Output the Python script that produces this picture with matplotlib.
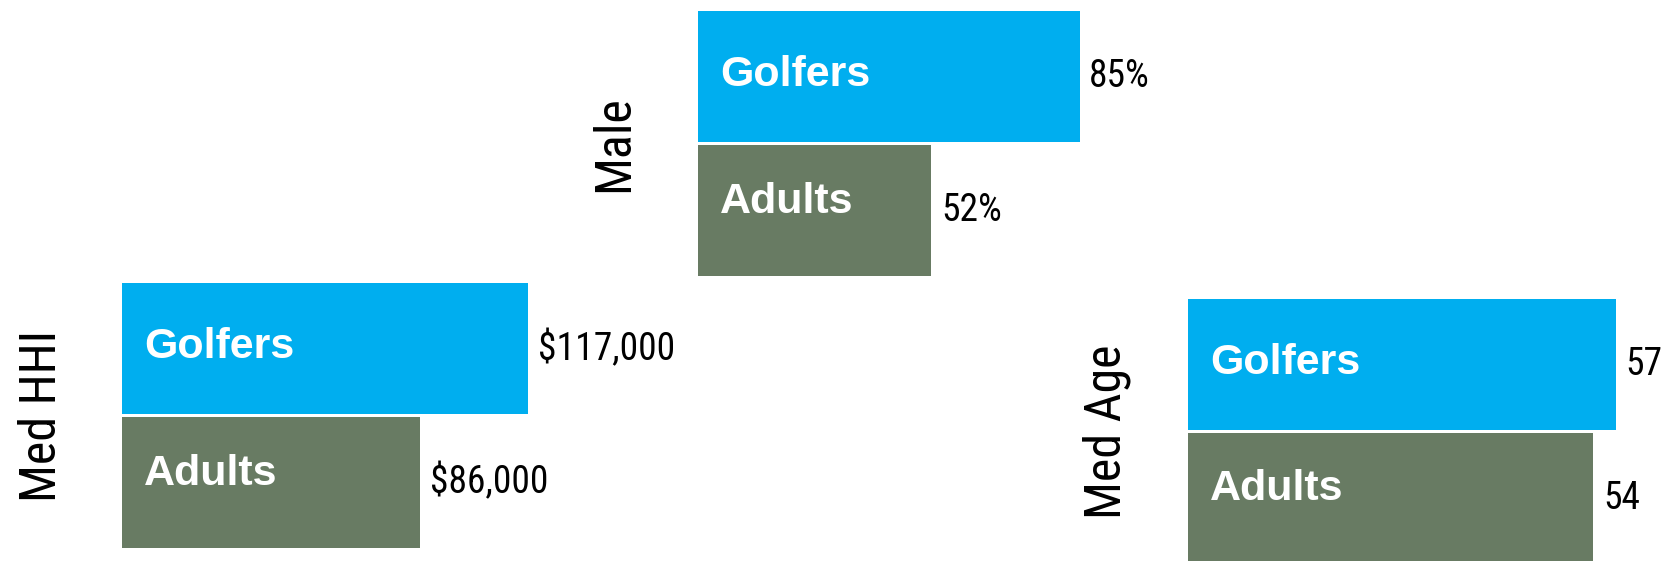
import matplotlib.pyplot as plt
from matplotlib import font_manager

# Data
groups = ["Golfers", "Adults"]
hhi_values = [117000, 86000]
hhi_labels = ["$117,000", "$86,000"]
male_values = [85, 52]
male_labels = ["85%", "52%"]
age_values = [57, 54]
age_labels = ["57", "54"]

colors = ["#00AEEF", "#687B63"]

# the reference uses narrow type for titles and values; pick what we have
installed = {f.name for f in font_manager.fontManager.ttflist}
if "Roboto Condensed" in installed:
    COND, TITLE_SIZE, VALUE_SIZE = "Roboto Condensed", 36, 27
elif "Liberation Sans Narrow" in installed:
    COND, TITLE_SIZE, VALUE_SIZE = "Liberation Sans Narrow", 38, 27
else:
    COND, TITLE_SIZE, VALUE_SIZE = "Liberation Sans", 33, 24
BOLD = ["Liberation Sans", "DejaVu Sans"]

W, H = 1672, 561
fig = plt.figure(figsize=(W / 100, H / 100), dpi=100)

SLOT = 133.6  # pixel height of one bar slot


def panel(left, top, px_per_unit, values, labels, title, title_x):
    width = 480
    ax = fig.add_axes([left / W, 1 - (top + 2 * SLOT) / H, width / W, 2 * SLOT / H])
    ax.set_facecolor("none")
    ypos = list(range(len(groups)))
    ax.barh(ypos, values, height=0.98, color=colors)
    ax.set_xlim(0, width / px_per_unit)
    ax.set_ylim(1.5, -0.5)
    ax.axis("off")

    # group names inside bars
    for y, g, o in zip(ypos, groups, [0.01, 0.065]):
        ax.annotate(g, (0, y - o), xytext=(16, 0), textcoords="offset points",
                    ha="left", va="center", color="white", fontsize=31,
                    fontweight="bold", family=BOLD)
    # values right of bars
    for y, v, lab in zip(ypos, values, labels):
        ax.annotate(lab, (v, y), xytext=(7, 0), textcoords="offset points",
                    ha="left", va="center", color="black", fontsize=VALUE_SIZE,
                    family=[COND, "DejaVu Sans"])

    fig.text(title_x / W, 1 - (top + SLOT) / H, title, rotation=90,
             ha="center", va="center", fontsize=TITLE_SIZE,
             family=[COND, "DejaVu Sans"])
    return ax


panel(121.9, 282, 406.2 / 117000, hhi_values, hhi_labels, "Med HHI", 42)
panel(698.0, 10, 4.49, male_values, male_labels, "Male", 614)
panel(1188.0, 297.7, 7.505, age_values, age_labels, "Med Age", 1107)

fig.savefig("out.png", dpi=100, facecolor="white")
